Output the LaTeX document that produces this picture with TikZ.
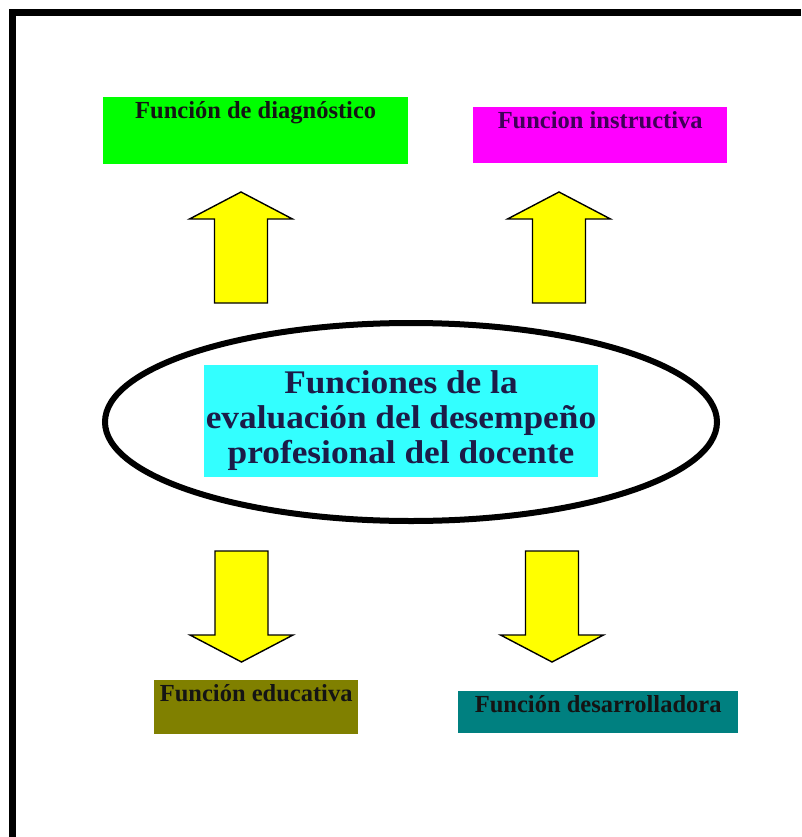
\documentclass[tikz,border=0pt]{standalone}
\usepackage{fontspec}
\setmainfont{Liberation Serif}
\newfontfamily\centralfont[FakeStretch=1.07]{Liberation Serif}
\definecolor{fgreen}{HTML}{00FF00}
\definecolor{fmagenta}{HTML}{FF00FF}
\definecolor{folive}{HTML}{808000}
\definecolor{fteal}{HTML}{008080}
\definecolor{fcyan}{HTML}{33FFFF}
\definecolor{fyellow}{HTML}{FFFF00}
\definecolor{navytext}{HTML}{1C1C48}
\definecolor{purpletext}{HTML}{400058}
\definecolor{darktext}{HTML}{141414}
\begin{document}
\begin{tikzpicture}[x=1pt,y=-1pt,
  funcbox/.style={draw=none, inner sep=0pt, anchor=north west, text height=21pt,
    font=\fontsize{24.5}{28}\selectfont\bfseries, text=darktext},
  arrowline/.style={draw=black, line width=1.4pt, fill=fyellow, line join=miter},
  blockarrow/.pic={\path[arrowline] (0,0) -- (51.5,27) -- (26.5,27) -- (26.5,111)
     -- (-26.5,111) -- (-26.5,27) -- (-51.5,27) -- cycle;}
]
\useasboundingbox (0,0) rectangle (801,837);
\fill[white] (0,0) rectangle (801,837);
% frame
\coordinate (fbl) at (12,837);
\coordinate (ftl) at (12,13);
\coordinate (ftr) at (801,13);
\draw[line width=7pt, line join=miter] (fbl) -- (ftl) -- (ftr);

% top boxes
\node[funcbox, fill=fgreen, minimum width=305pt, text depth=46pt] (diag) at (103,97) {Función de diagnóstico};
\node[funcbox, fill=fmagenta, minimum width=254pt, text depth=35pt, text=purpletext] (instr) at (473,107) {Funcion instructiva};
% bottom boxes
\node[funcbox, fill=folive, minimum width=204pt, text depth=33pt] (educ) at (154,680) {Función educativa};
\node[funcbox, fill=fteal, minimum width=280pt, text depth=21pt] (desa) at (458,691) {Función desarrolladora};

% central ellipse and box
\draw[line width=6pt] (411,422) ellipse [x radius=306, y radius=99];
\node[fill=fcyan, inner sep=0pt, minimum width=394pt, minimum height=112pt, align=center,
  font=\centralfont\fontsize{33}{35}\selectfont\bfseries, text=navytext] (centro) at (401,421)
  {Funciones de la\\evaluación del desempeño\\profesional del docente};

% arrows
\pic at (241,192) {blockarrow};
\pic at (559,192) {blockarrow};
\pic[yscale=-1] at (241.5,662) {blockarrow};
\pic[yscale=-1] at (552,662) {blockarrow};
\end{tikzpicture}
\end{document}
